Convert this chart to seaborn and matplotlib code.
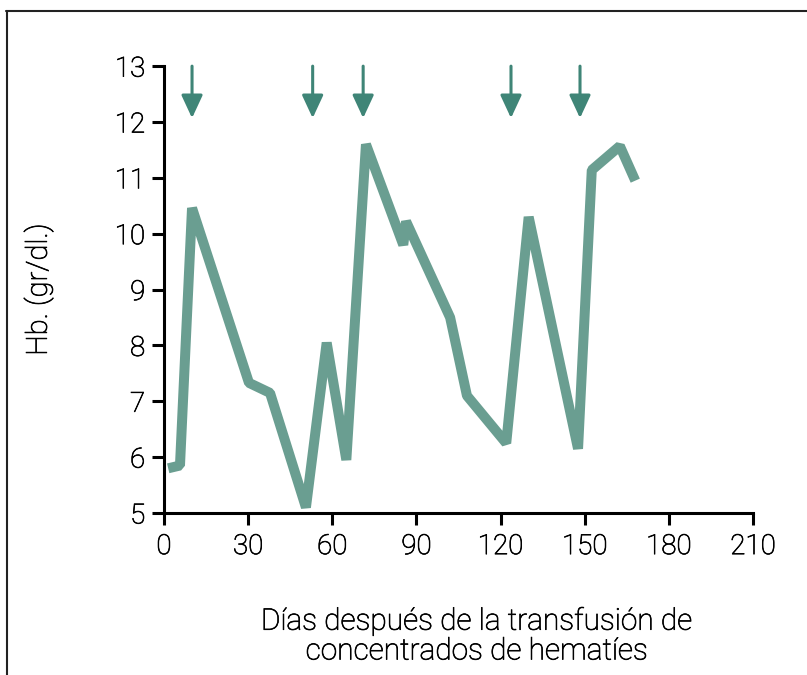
import matplotlib
matplotlib.use("Agg")
import matplotlib.pyplot as plt
import matplotlib.patheffects as pe
from matplotlib.lines import Line2D
import seaborn as sns
import pandas as pd

# Hb values
days = [1.5, 5.7, 10, 30.3, 37.8, 50.6, 58, 65, 72, 85.3, 86.3, 102, 108, 122,
        130, 147.6, 152.5, 162.5, 168]
hb = [5.8, 5.85, 10.46, 7.33, 7.15, 5.1, 8.05, 5.95, 11.6, 9.8, 10.22, 8.5, 7.1,
      6.25, 10.3, 6.15, 11.14, 11.57, 10.95]
# transfusion days (arrows)
transfusion_days = [10, 53, 71, 123.7, 148.3]

x_ticks = [0, 30, 60, 90, 120, 150, 180, 210]
y_ticks = [5, 6, 7, 8, 9, 10, 11, 12, 13]

line_color = "#6a9e91"
arrow_color = "#3f8577"

sns.set_style("ticks")
plt.rcParams["font.family"] = ["Roboto", "DejaVu Sans"]
plt.rcParams["font.weight"] = "light"
plt.rcParams["axes.labelweight"] = "light"
plt.rcParams["text.color"] = "black"
plt.rcParams["axes.labelcolor"] = "black"

df = pd.DataFrame({"day": days, "hb": hb})

fig = plt.figure(figsize=(8.07, 6.75), dpi=100)
ax = fig.add_axes([0.2032, 0.24, 0.73, 0.662])

sns.lineplot(data=df, x="day", y="hb", ax=ax, color=line_color, linewidth=7.2,
             sort=False, solid_joinstyle="bevel", solid_capstyle="butt")

for d in transfusion_days:
    ax.annotate("", xy=(d, 12.07), xytext=(d, 13.0),
                arrowprops=dict(arrowstyle="-|>,head_length=1.4,head_width=0.65",
                                color=arrow_color, lw=2.2, shrinkA=0, shrinkB=0),
                annotation_clip=False)

ax.set_xlim(0, 210)
ax.set_ylim(5, 13)
ax.set_xticks(x_ticks)
ax.set_yticks(y_ticks)
ax.tick_params(axis="both", direction="out", length=8.5, width=2.2, labelsize=20,
               colors="black")
ax.tick_params(axis="x", pad=6)
ax.tick_params(axis="y", pad=5)
for s in ["left", "bottom"]:
    ax.spines[s].set_linewidth(2.2)
    ax.spines[s].set_color("black")
sns.despine(ax=ax)

ax.set_xlabel("Días después de la transfusión de\nconcentrados de hematíes",
              fontsize=21.5, linespacing=1.08)
ax.xaxis.set_label_coords(0.531, -0.21)
ax.set_ylabel("Hb. (gr/dl.)", fontsize=21, labelpad=44)

# slightly darker strokes for the light font
bold = [pe.withStroke(linewidth=0.5, foreground="black")]
for t in ax.get_xticklabels() + ax.get_yticklabels() + [ax.xaxis.label, ax.yaxis.label]:
    t.set_path_effects(bold)

# frame lines (top and left) of the original box
fig.add_artist(Line2D([0.007, 1.0], [0.983, 0.983], transform=fig.transFigure,
                      color="#222222", lw=1.5))
fig.add_artist(Line2D([0.009, 0.009], [0.0, 0.983], transform=fig.transFigure,
                      color="#222222", lw=1.5))

fig.savefig("out.png", dpi=100)
